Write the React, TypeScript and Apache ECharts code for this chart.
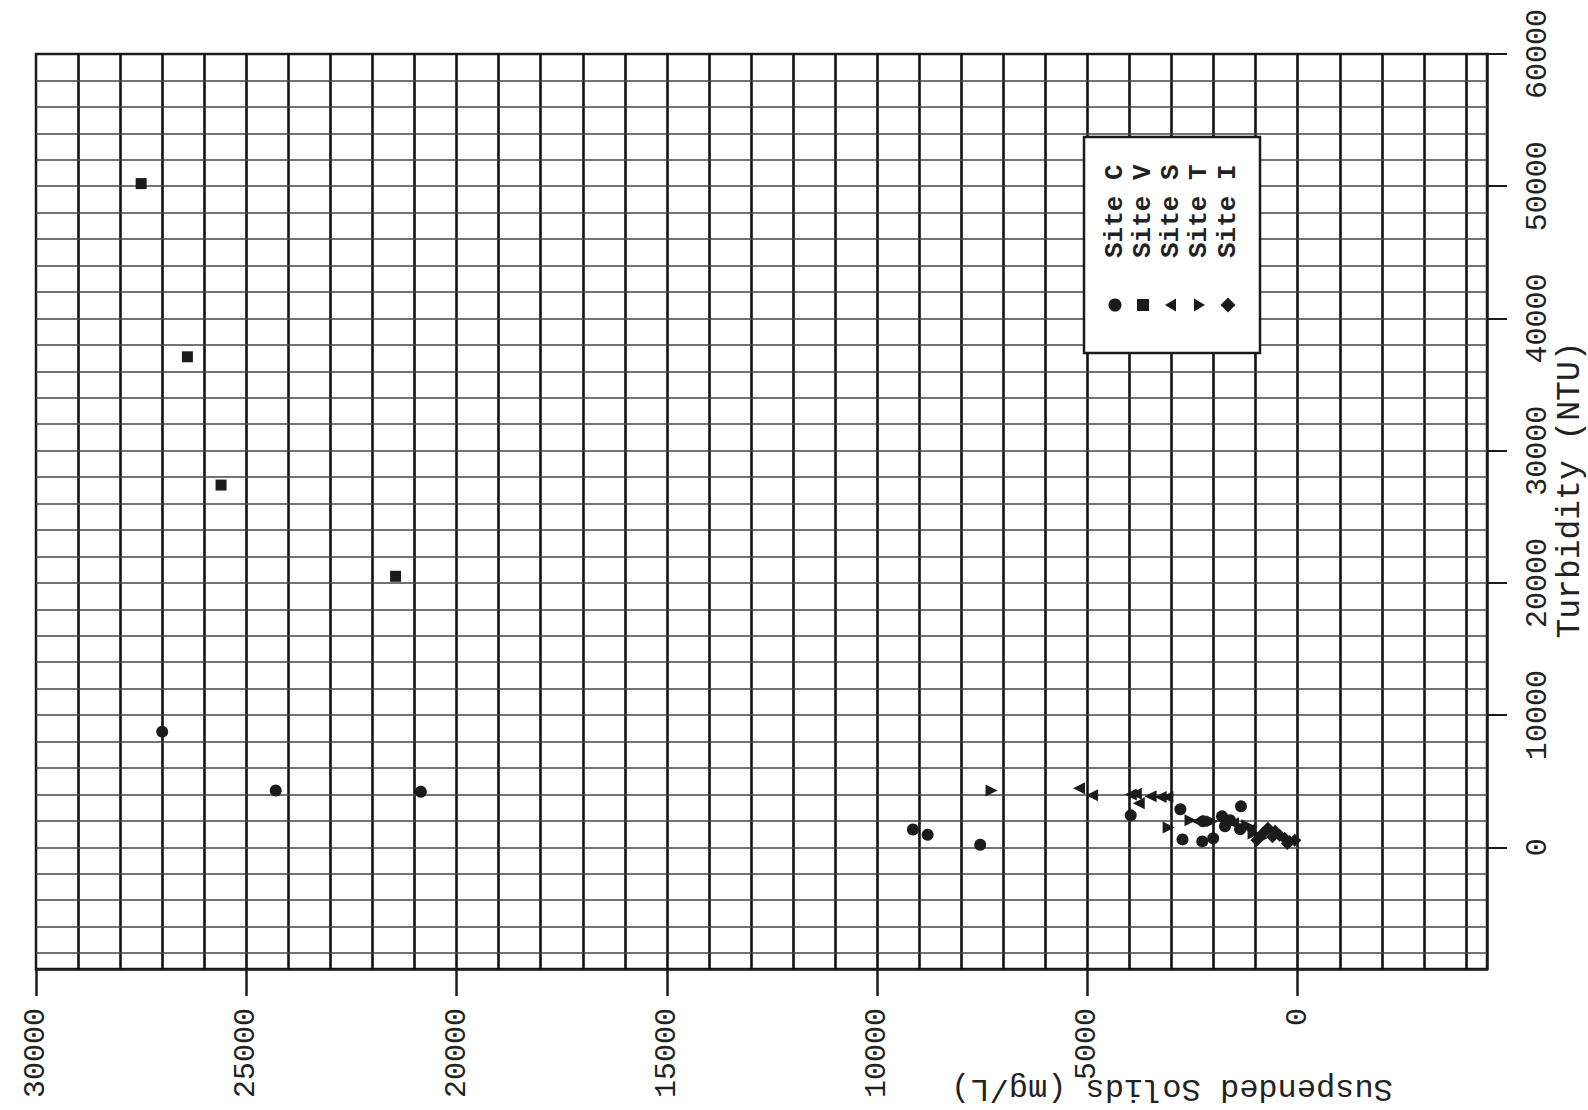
import React, { useEffect, useRef } from "react";
import * as echarts from "echarts";

// Suspended solids (mg/L) vs turbidity (NTU), one scatter series per site.
// Each point is [suspended solids, turbidity].
const siteC: number[][] = [
  [27000, 8750], [24300, 4300], [20850, 4200], [9150, 1350], [8800, 950],
  [7550, 200], [3970, 2420], [2790, 2880], [2740, 600], [2250, 1970],
  [2270, 450], [2010, 680], [1800, 2350], [1350, 3100], [1730, 1600],
  [1370, 1360], [1610, 2050],
];
const siteV: number[][] = [
  [27500, 50200], [26400, 37100], [25600, 27400], [21450, 20500],
];
const siteS: number[][] = [
  [5200, 4470], [4890, 3940], [3970, 4000], [3850, 4050], [3780, 3330],
  [3500, 3860], [3260, 3800], [3100, 3800], [2390, 1970], [1540, 1820],
  [1130, 1360],
];
const siteT: number[][] = [
  [7280, 4300], [3070, 1500], [2550, 2050], [2030, 1970], [1200, 1670],
  [1050, 1050], [850, 700],
];
const siteI: number[][] = [
  [970, 530], [830, 1060], [710, 1440], [540, 1210], [430, 910],
  [310, 680], [190, 450], [70, 530], [600, 800], [250, 300],
];

const siteNames = ["Site C", "Site V", "Site S", "Site T", "Site I"];

// Axis ranges and labelled ticks
const SS_MIN = -4500;
const SS_MAX = 30000;
const TURB_MIN = -9200;
const TURB_MAX = 60000;
const SS_TICKS = [0, 5000, 10000, 15000, 20000, 25000, 30000];
const TURB_TICKS = [0, 10000, 20000, 30000, 40000, 50000, 60000];

// Graph-paper rulings
const range = (from: number, to: number, step: number) => {
  const out: number[] = [];
  for (let v = from; v <= to; v += step) out.push(v);
  return out;
};
const SS_RULINGS = range(-4000, 29000, 1000);
const TURB_RULINGS = range(-8000, 58000, 2000);

const INK = "#1b1b1b";
const MONO = '"Liberation Mono", "DejaVu Sans Mono", monospace';

const SYM_LEFT = "path://M0,5 L10,0 L10,10 Z";
const SYM_RIGHT = "path://M10,5 L0,0 L0,10 Z";
const SYM_DIAMOND = "path://M5,0 L10,5 L5,10 L0,5 Z";

const plain = (v: number) => String(v);

export default function App() {
  const ref = useRef<HTMLDivElement>(null);

  useEffect(() => {
    if (!ref.current) return;
    const chart = echarts.init(ref.current, undefined, { renderer: "svg" });

    const pointSeries = (name: string, data: number[][], symbol: string, size: number) => ({
      type: "scatter",
      name,
      data,
      symbol,
      symbolSize: size,
      itemStyle: { color: INK, opacity: 1 },
      z: 3,
      silent: true,
    });

    // Legend: symbol below, label rotated to read upwards
    const legendX = [1115, 1143, 1171, 1199, 1228];
    const symY = 305;
    const LZ = 100;
    const legendChildren: any[] = [
      {
        type: "rect",
        z: LZ,
        shape: { x: 1084, y: 137, width: 176, height: 216 },
        style: { fill: "#fff", stroke: INK, lineWidth: 2.5 },
      },
      { type: "circle", z: LZ + 1, shape: { cx: legendX[0], cy: symY, r: 6.5 }, style: { fill: INK } },
      {
        type: "rect",
        z: LZ + 1,
        shape: { x: legendX[1] - 6, y: symY - 6, width: 12, height: 12 },
        style: { fill: INK },
      },
      {
        type: "polygon",
        z: LZ + 1,
        shape: { points: [[legendX[2] - 6, symY], [legendX[2] + 5, symY - 6.5], [legendX[2] + 5, symY + 6.5]] },
        style: { fill: INK },
      },
      {
        type: "polygon",
        z: LZ + 1,
        shape: { points: [[legendX[3] + 6, symY], [legendX[3] - 5, symY - 6.5], [legendX[3] - 5, symY + 6.5]] },
        style: { fill: INK },
      },
      {
        type: "polygon",
        z: LZ + 1,
        shape: { points: [[legendX[4], symY - 7.5], [legendX[4] + 7.5, symY], [legendX[4], symY + 7.5], [legendX[4] - 7.5, symY]] },
        style: { fill: INK },
      },
      ...siteNames.map((name, i) => ({
        type: "text",
        z: LZ + 1,
        x: legendX[i],
        y: 258,
        rotation: Math.PI / 2,
        style: {
          text: name,
          fontFamily: MONO,
          fontSize: 26,
          fontWeight: "bold",
          fill: "#222",
          textAlign: "left",
          textVerticalAlign: "middle",
        },
      })),
    ];

    chart.setOption({
      animation: false,
      backgroundColor: "#fff",
      grid: {
        left: 36,
        right: 101,
        top: 54,
        bottom: 141,
        outerBoundsMode: "none",
        containLabel: false,
        show: true,
        borderColor: INK,
        borderWidth: 2.5,
        backgroundColor: "#fff",
      },
      xAxis: {
        type: "value",
        inverse: true,
        min: SS_MIN,
        max: SS_MAX,
        position: "bottom",
        axisLine: { show: true, onZero: false, lineStyle: { color: INK, width: 2.5 } },
        axisTick: {
          show: true,
          customValues: SS_TICKS,
          length: 27,
          lineStyle: { color: INK, width: 2.5 },
        },
        axisLabel: {
          customValues: SS_TICKS,
          formatter: plain,
          rotate: 90,
          margin: 39,
          fontFamily: MONO,
          fontSize: 30,
          color: "#222",
        },
        splitLine: { show: false },
      },
      yAxis: {
        type: "value",
        position: "right",
        min: TURB_MIN,
        max: TURB_MAX,
        axisLine: { show: true, onZero: false, lineStyle: { color: INK, width: 2.5 } },
        axisTick: {
          show: true,
          customValues: TURB_TICKS,
          length: 20,
          lineStyle: { color: INK, width: 2 },
        },
        axisLabel: {
          customValues: TURB_TICKS,
          formatter: plain,
          rotate: 90,
          margin: 36,
          fontFamily: MONO,
          fontSize: 30,
          color: "#222",
        },
        splitLine: { show: false },
      },
      series: [
        {
          type: "scatter",
          name: "rulings",
          data: [],
          silent: true,
          z: 1,
          markLine: {
            silent: true,
            symbol: ["none", "none"],
            label: { show: false },
            animation: false,
            z: 1,
            emphasis: { disabled: true },
            data: [
              ...SS_RULINGS.map((v) => ({
                xAxis: v,
                lineStyle: { color: "#111", width: 2.6, type: "solid" },
              })),
              ...TURB_RULINGS.map((v) => ({
                yAxis: v,
                lineStyle: { color: "#444", width: 1.6, type: "solid" },
              })),
            ],
          },
        },
        pointSeries("Site C", siteC, "circle", 12),
        pointSeries("Site V", siteV, "rect", 11),
        pointSeries("Site S", siteS, SYM_LEFT, 12),
        pointSeries("Site T", siteT, SYM_RIGHT, 12),
        pointSeries("Site I", siteI, SYM_DIAMOND, 13),
      ],
      graphic: [
        {
          type: "text",
          x: 1172,
          y: 1088,
          rotation: Math.PI,
          style: {
            text: "Suspended Solids (mg/L)",
            fontFamily: MONO,
            fontSize: 32,
            fill: "#222",
            textAlign: "center",
            textVerticalAlign: "middle",
          },
        },
        {
          type: "text",
          x: 1570,
          y: 490,
          rotation: Math.PI / 2,
          style: {
            text: "Turbidity (NTU)",
            fontFamily: MONO,
            fontSize: 33,
            fill: "#222",
            textAlign: "center",
            textVerticalAlign: "middle",
          },
        },
        { type: "group", z: LZ, children: legendChildren },
      ],
    });

    return () => chart.dispose();
  }, []);

  return (
    <div
      ref={ref}
      style={{ position: "fixed", left: 0, top: 0, width: 1588, height: 1110, background: "#fff" }}
    />
  );
}
